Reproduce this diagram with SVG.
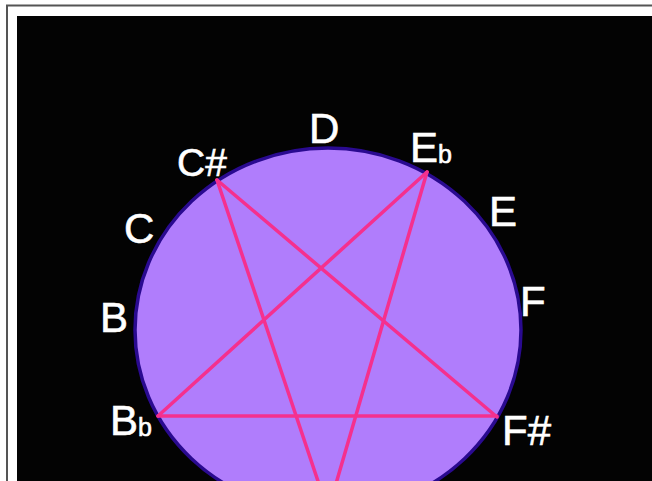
<svg xmlns="http://www.w3.org/2000/svg" width="652" height="481" viewBox="0 0 652 481">
<style>
.lbl{fill:#ffffff;stroke:#ffffff;stroke-width:0.6;font-family:"Liberation Sans",Arial,sans-serif;font-size:42px}
.sub{font-size:25px}
.star{stroke:#f5308e;stroke-width:3.5;stroke-linecap:round;fill:none}
</style>
<rect x="0" y="0" width="652" height="481" fill="#ffffff"/>
<path d="M7,481 V5.5 H652" fill="none" stroke="#555555" stroke-width="2"/>
<rect x="17" y="16" width="635" height="465" fill="#030303"/>
<g id="wheel">
<ellipse cx="328" cy="330" rx="193" ry="182" fill="#b07dfc" stroke="#2a0a90" stroke-width="3.5"/>
</g>
<g id="connectors">
<line class="star" x1="217" y1="180" x2="497" y2="417"/>
<line class="star" x1="217" y1="180" x2="328" y2="511"/>
<line class="star" x1="427" y1="172" x2="158" y2="416"/>
<line class="star" x1="427" y1="172" x2="328" y2="511"/>
<line class="star" x1="158" y1="416" x2="497" y2="416"/>
</g>
<g id="label-D"><text class="lbl" x="309" y="143">D</text></g>
<g id="label-Cs"><text class="lbl" x="177" y="176" style="font-size:39px">C#</text></g>
<g id="label-C"><text class="lbl" x="124" y="243">C</text></g>
<g id="label-B"><text class="lbl" x="100" y="332">B</text></g>
<g id="label-Bb"><text class="lbl" x="110" y="435">B<tspan class="sub" dy="1">b</tspan></text></g>
<g id="label-Eb"><text class="lbl" x="410" y="162">E<tspan class="sub" dy="1">b</tspan></text></g>
<g id="label-E"><text class="lbl" x="489" y="226">E</text></g>
<g id="label-F"><text class="lbl" x="520" y="316">F</text></g>
<g id="label-Fs"><text class="lbl" x="502" y="445">F#</text></g>
</svg>
